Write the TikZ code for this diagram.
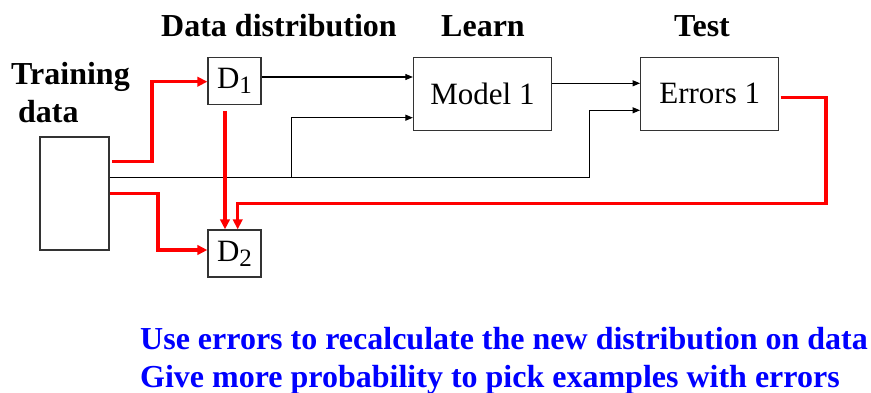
\documentclass[tikz,border=0pt]{standalone}
\usepackage{fontspec}
\setmainfont{Liberation Serif}
\usetikzlibrary{arrows.meta}
\newcommand{\mysub}[1]{\raisebox{-5pt}{\fontsize{25}{25}\selectfont #1}}
\begin{document}
\begin{tikzpicture}[x=1pt,y=-1pt,
  box/.style={draw=black!80, line width=1.3pt, fill=white, inner sep=0pt, font=\fontsize{31}{36}\selectfont},
  blk/.style={draw=black, line width=1.1pt, -{Triangle[length=7.5pt,width=6pt]}},
  redarr/.style={draw=red, line width=3.2pt, -{Triangle[length=10pt,width=9.5pt]}},
  title/.style={font=\bfseries\fontsize{32}{36}\selectfont, anchor=base, inner sep=0pt},
  note/.style={font=\bfseries\fontsize{32}{36}\selectfont, text=blue, anchor=base west, inner sep=0pt}]
\useasboundingbox (0,0) rectangle (871,393);
% titles
\node[title] (tdist) at (279,37) {Data distribution};
\node[title] (tlearn) at (483,37) {Learn};
\node[title] (ttest) at (702,37) {Test};
\node[title, anchor=base west] (ttrain) at (11,85) {Training};
\node[title, anchor=base west] (tdata) at (18,123) {data};
% boxes
\node[box, minimum width=69pt, minimum height=113pt] (train) at (74.5,193.5) {};
\node[box, minimum width=53pt, minimum height=47pt] (D1) at (234.5,80.7) {D\mysub{1}};
\node[box, minimum width=53pt, minimum height=47pt] (D2) at (234.5,253.5) {D\mysub{2}};
\node[box, minimum width=138pt, minimum height=73pt] (model) at (482.5,93.8) {Model 1};
\node[box, minimum width=138pt, minimum height=73pt] (errors) at (709.7,93.8) {Errors 1};
% coordinates
\coordinate (ya) at (0,77);
\coordinate (yb) at (0,117.7);
\coordinate (yc) at (0,83.3);
\coordinate (yd) at (0,110.3);
\coordinate (ye) at (0,177.3);
\coordinate (t0) at (train.east |- ye);
\coordinate (br1) at (291.7,177.3);
\coordinate (br2) at (589.3,177.3);
% black connectors
\draw[blk] (D1.east |- ya) -- (model.west |- ya);
\draw[blk] (model.east |- yc) -- (errors.west |- yc);
\draw[blk] (t0) -- (br2) |- (errors.west |- yd);
\draw[blk] (br1) |- (model.west |- yb);
% red connectors
\coordinate (s1) at (112,161.7);
\coordinate (r1) at (152,161.7);
\coordinate (yf) at (0,81.7);
\draw[redarr] (s1) -- (r1) |- (D1.west |- yf);
\coordinate (yg) at (0,193.3);
\coordinate (s2) at (train.east |- yg);
\coordinate (r2) at (158,193.3);
\coordinate (yh) at (0,250);
\draw[redarr] (s2) -- (r2) |- (D2.west |- yh);
\coordinate (s3) at (225,111);
\draw[redarr] (s3) -- (s3 |- D2.north);
\coordinate (s4) at (780.5,97.3);
\coordinate (c4) at (826,203.3);
\coordinate (c5) at (237.7,203.3);
\draw[redarr] (s4) -| (c4) -- (c5) -- (c5 |- D2.north);
% notes
\node[note] (n1) at (140,349.3) {Use errors to recalculate the new distribution on data};
\node[note] (n2) at (140,387) {Give more probability to pick examples with errors};
\end{tikzpicture}
\end{document}
